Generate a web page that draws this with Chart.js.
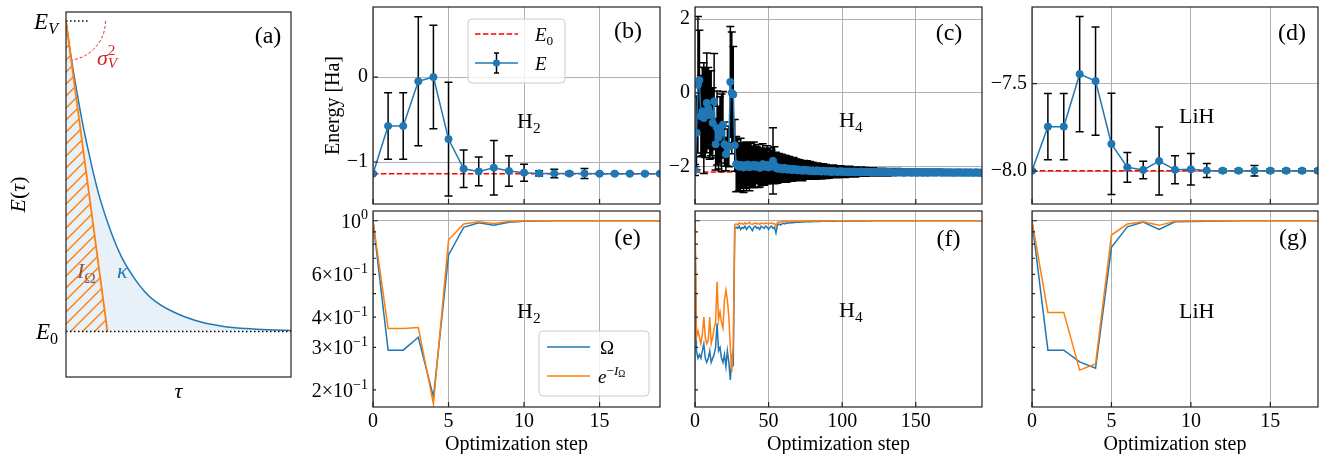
<!DOCTYPE html>
<html>
<head>
<meta charset="utf-8">
<title>VQE energy and fidelity</title>
<script src="https://cdn.jsdelivr.net/npm/chart.js@4.4.1/dist/chart.umd.min.js"></script>
<style>
  html, body { margin: 0; padding: 0; background: #fff; }
  #wrap { position: relative; width: 1319px; height: 454px; overflow: hidden; }
  #wrap canvas { position: absolute; left: 0; top: 0; }
</style>
</head>
<body>
<div id="wrap"></div>
<script>
// ---------- (a) schematic ----------
const E_V = 1, E_0 = 0;
const tauCurve    = [0, 0.025, 0.05, 0.075, 0.1, 0.125, 0.15, 0.2, 0.25, 0.3, 0.35, 0.4, 0.5, 0.6, 0.7, 0.8, 0.9, 1.0];
const energyCurve = [1, 0.873, 0.765, 0.665, 0.58, 0.5, 0.43, 0.32, 0.235, 0.175, 0.128, 0.095, 0.055, 0.03, 0.016, 0.009, 0.005, 0.003];
const tauTangent = [0, 0.184];
const energyTangent = [1, 0];
const tauEvMark = [0, 0.1];

// ---------- H2 ----------
const h2E0 = -1.137;
const h2Energy = [-1.137, -0.576, -0.576, -0.05, 0.0, -0.73, -1.08, -1.11, -1.067, -1.106,
                  -1.125, -1.134, -1.135, -1.136, -1.135, -1.137, -1.137, -1.137, -1.137, -1.137];
const h2Err = [0.01, 0.39, 0.39, 0.76, 0.61, 0.67, 0.22, 0.17, 0.32, 0.18,
               0.1, 0.03, 0.05, 0.02, 0.06, 0.01, 0.01, 0.01, 0.01, 0.01];
const h2Omega = [1.0, 0.292, 0.292, 0.33, 0.187, 0.721, 0.939, 0.981, 0.957, 0.985,
                 0.995, 0.998, 0.999, 1.0, 1.0, 1.0, 1.0, 1.0, 1.0, 1.0];
const h2ExpI = [1.0, 0.359, 0.359, 0.362, 0.175, 0.832, 0.969, 0.99, 0.975, 0.992,
                0.997, 0.999, 1.0, 1.0, 1.0, 1.0, 1.0, 1.0, 1.0, 1.0];

// ---------- H4 ----------
const h4E0 = -2.14;
const h4Energy = [
  -2.09, -1.08, 0.22, 0.35, -0.63, -0.5, -0.68, -0.55, -0.27, -0.41,
  -0.6, -0.55, -0.81, -0.23, -1.39, -0.95, -1.21, -1.0, -1.08, -0.86,
  -1.39, -1.66, -1.48, -1.45, 0.30, 0.0, -0.04, -1.42, -1.93, -1.97,
  -2.0, -1.95, -1.98, -2.02, -1.96, -1.99, -1.94, -2.01, -1.97, -1.99,
  -1.95, -2.0, -1.96, -1.98, -2.03, -1.97, -1.93, -2.0, -1.98, -1.95,
  -2.02, -1.97, -1.99, -1.84, -1.96, -2.03, -2.05, -2.02, -2.06, -2.04,
  -2.07, -2.03, -2.06, -2.08, -2.05, -2.07, -2.09, -2.06, -2.08, -2.07,
  -2.1, -2.08, -2.09, -2.11, -2.08, -2.1, -2.09, -2.11, -2.1, -2.12,
  -2.1, -2.11, -2.12, -2.1, -2.12, -2.11, -2.13, -2.11, -2.12, -2.13,
  -2.12, -2.13, -2.12, -2.14, -2.12, -2.13, -2.13, -2.14, -2.13, -2.12,
  -2.14, -2.13, -2.14, -2.13, -2.15, -2.13, -2.14, -2.14, -2.13, -2.15,
  -2.14, -2.14, -2.15, -2.13, -2.14, -2.15, -2.14, -2.14, -2.15, -2.14,
  -2.15, -2.14, -2.14, -2.15, -2.15, -2.14, -2.15, -2.14, -2.15, -2.15,
  -2.14, -2.15, -2.15, -2.14, -2.15, -2.15, -2.16, -2.15, -2.14, -2.15,
  -2.15, -2.15, -2.16, -2.15, -2.15, -2.14, -2.15, -2.16, -2.15, -2.15,
  -2.15, -2.16, -2.15, -2.15, -2.15, -2.16, -2.15, -2.15, -2.16, -2.15,
  -2.15, -2.15, -2.16, -2.15, -2.16, -2.15, -2.15, -2.16, -2.15, -2.16,
  -2.15, -2.16, -2.15, -2.16, -2.15, -2.16, -2.16, -2.15, -2.16, -2.15,
  -2.16, -2.15, -2.16, -2.16, -2.15, -2.16, -2.16, -2.15, -2.16, -2.16,
  -2.16, -2.15, -2.16, -2.16, -2.16, -2.16];
const h4Err = [
  0.15, 1.0, 1.85, 1.35, 1.1, 1.2, 1.5, 1.2, 1.35, 1.1,
  1.2, 1.15, 0.95, 1.3, 0.7, 1.0, 0.85, 0.9, 1.05, 0.9,
  0.6, 0.45, 0.5, 0.55, 1.5, 1.65, 1.3, 0.7, 0.75, 0.7,
  0.65, 0.72, 0.6, 0.68, 0.62, 0.66, 0.58, 0.64, 0.6, 0.55,
  0.62, 0.55, 0.5, 0.58, 0.52, 0.48, 0.55, 0.5, 0.45, 0.52,
  0.42, 0.48, 0.44, 0.9, 0.5, 0.42, 0.4, 0.38, 0.36, 0.38,
  0.35, 0.34, 0.36, 0.32, 0.33, 0.31, 0.3, 0.31, 0.29, 0.28,
  0.28, 0.27, 0.26, 0.27, 0.25, 0.24, 0.25, 0.23, 0.24, 0.22,
  0.22, 0.21, 0.22, 0.2, 0.21, 0.19, 0.2, 0.19, 0.18, 0.19,
  0.17, 0.18, 0.17, 0.16, 0.17, 0.16, 0.15, 0.16, 0.15, 0.15,
  0.15, 0.14, 0.15, 0.14, 0.13, 0.14, 0.13, 0.13, 0.12, 0.13,
  0.12, 0.12, 0.11, 0.12, 0.11, 0.11, 0.12, 0.11, 0.1, 0.11,
  0.1, 0.11, 0.1, 0.1, 0.1, 0.09, 0.1, 0.1, 0.09, 0.09,
  0.09, 0.1, 0.09, 0.09, 0.09, 0.09, 0.08, 0.09, 0.09, 0.08,
  0.09, 0.08, 0.08, 0.09, 0.08, 0.08, 0.08, 0.08, 0.08, 0.08,
  0.08, 0.08, 0.08, 0.08, 0.07, 0.08, 0.08, 0.07, 0.08, 0.07,
  0.07, 0.08, 0.07, 0.07, 0.07, 0.07, 0.08, 0.07, 0.07, 0.07,
  0.07, 0.07, 0.07, 0.07, 0.07, 0.07, 0.06, 0.07, 0.07, 0.07,
  0.07, 0.06, 0.07, 0.07, 0.06, 0.07, 0.06, 0.07, 0.06, 0.07,
  0.06, 0.07, 0.06, 0.06, 0.07, 0.06];
const h4Omega = [
  1.0, 0.29, 0.27, 0.28, 0.27, 0.29, 0.31, 0.27, 0.26, 0.27,
  0.29, 0.26, 0.27, 0.28, 0.30, 0.377, 0.29, 0.30, 0.27, 0.26,
  0.28, 0.25, 0.29, 0.26, 0.22, 0.27, 0.25, 0.93, 0.94, 0.93,
  0.95, 0.92, 0.94, 0.93, 0.95, 0.92, 0.94, 0.95, 0.93, 0.91,
  0.94, 0.95, 0.93, 0.94, 0.92, 0.95, 0.94, 0.93, 0.95, 0.94,
  0.92, 0.94, 0.95, 0.93, 0.94, 0.89, 0.96, 0.97, 0.96, 0.97,
  0.975, 0.97, 0.98, 0.975, 0.98, 0.982, 0.98, 0.985, 0.983, 0.986,
  0.987, 0.985, 0.988, 0.99, 0.988, 0.99, 0.991, 0.99, 0.992, 0.991,
  0.992, 0.993, 0.992, 0.993, 0.994, 0.993, 0.994, 0.995, 0.994, 0.995,
  0.995, 0.996, 0.995, 0.996, 0.996, 0.997, 0.996, 0.997, 0.997, 0.997,
  0.997, 0.998, 0.997, 0.998, 0.998, 0.998, 0.997, 0.998, 0.998, 0.998,
  0.998, 0.998, 0.999, 0.998, 0.998, 0.999, 0.998, 0.999, 0.999, 0.998,
  0.999, 0.999, 0.999, 0.999, 0.999, 0.999, 0.999, 0.999, 0.999, 0.999,
  0.999, 0.999, 0.999, 0.999, 0.999, 0.999, 0.999, 0.999, 0.999, 0.999,
  0.999, 0.999, 0.999, 0.999, 0.999, 1.0, 0.999, 0.999, 1.0, 0.999,
  1.0, 1.0, 1.0, 1.0, 1.0, 1.0, 1.0, 1.0, 1.0, 1.0,
  1.0, 1.0, 1.0, 1.0, 1.0, 1.0, 1.0, 1.0, 1.0, 1.0,
  1.0, 1.0, 1.0, 1.0, 1.0, 1.0, 1.0, 1.0, 1.0, 1.0,
  1.0, 1.0, 1.0, 1.0, 1.0, 1.0, 1.0, 1.0, 1.0, 1.0,
  1.0, 1.0, 1.0, 1.0, 1.0, 1.0];
const h4ExpI = [
  1.0, 0.33, 0.35, 0.33, 0.31, 0.34, 0.40, 0.33, 0.31, 0.32,
  0.40, 0.31, 0.33, 0.36, 0.38, 0.56, 0.39, 0.42, 0.38, 0.36,
  0.47, 0.517, 0.47, 0.40, 0.30, 0.238, 0.31, 0.965, 0.97, 0.96,
  0.98, 0.97, 0.975, 0.965, 0.98, 0.97, 0.975, 0.985, 0.97, 0.965,
  0.975, 0.98, 0.97, 0.975, 0.965, 0.98, 0.975, 0.97, 0.98, 0.975,
  0.97, 0.975, 0.98, 0.97, 0.975, 0.95, 0.985, 0.99, 0.985, 0.99,
  0.99, 0.99, 0.992, 0.991, 0.993, 0.992, 0.993, 0.994, 0.994, 0.995,
  0.995, 0.995, 0.996, 0.996, 0.996, 0.997, 0.997, 0.997, 0.997, 0.998,
  0.998, 0.998, 0.998, 0.998, 0.998, 0.998, 0.998, 0.998, 0.998, 0.998,
  0.998, 0.998, 0.999, 0.999, 0.999, 0.999, 0.999, 0.999, 0.999, 0.999,
  0.999, 0.999, 0.999, 0.999, 0.999, 0.999, 0.999, 0.999, 0.999, 0.999,
  0.999, 0.999, 0.999, 0.999, 0.999, 0.999, 0.999, 0.999, 0.999, 0.999,
  1.0, 1.0, 1.0, 1.0, 1.0, 1.0, 1.0, 1.0, 1.0, 1.0,
  1.0, 1.0, 1.0, 1.0, 1.0, 1.0, 1.0, 1.0, 1.0, 1.0,
  1.0, 1.0, 1.0, 1.0, 1.0, 1.0, 1.0, 1.0, 1.0, 1.0,
  1.0, 1.0, 1.0, 1.0, 1.0, 1.0, 1.0, 1.0, 1.0, 1.0,
  1.0, 1.0, 1.0, 1.0, 1.0, 1.0, 1.0, 1.0, 1.0, 1.0,
  1.0, 1.0, 1.0, 1.0, 1.0, 1.0, 1.0, 1.0, 1.0, 1.0,
  1.0, 1.0, 1.0, 1.0, 1.0, 1.0, 1.0, 1.0, 1.0, 1.0,
  1.0, 1.0, 1.0, 1.0, 1.0, 1.0];

// ---------- LiH ----------
const lihE0 = -7.998;
const lihEnergy = [-7.998, -7.746, -7.746, -7.445, -7.485, -7.845, -7.979, -7.994, -7.943, -7.993,
                   -7.99, -7.997, -7.998, -7.998, -7.998, -7.998, -7.998, -7.998, -7.998];
const lihErr = [0.005, 0.19, 0.19, 0.33, 0.31, 0.29, 0.085, 0.05, 0.195, 0.08,
                0.09, 0.04, 0.01, 0.01, 0.03, 0.01, 0.01, 0.01, 0.01];
const lihOmega = [1.0, 0.292, 0.292, 0.261, 0.246, 0.776, 0.944, 0.987, 0.921, 0.99,
                  0.993, 0.996, 0.998, 1.0, 1.0, 1.0, 1.0, 1.0, 1.0];
const lihExpI = [1.0, 0.418, 0.418, 0.2415, 0.256, 0.873, 0.969, 0.99, 0.957, 0.995,
                 0.997, 0.998, 0.999, 1.0, 1.0, 1.0, 1.0, 1.0, 1.0];

// ---------- ticks ----------
const stepTicksShort = [0, 5, 10, 15];
const stepTicksLong = [0, 50, 100, 150];
const h2Ticks = [-1, 0];
const h4Ticks = [-2, 0, 2];
const lihTicks = [-8.0, -7.5];
const fidTicks = [0.2, 0.3, 0.4, 0.5, 0.6, 0.7, 0.8, 0.9, 1];
const fidMinor = [0.2, 0.3, 0.4, 0.5, 0.6, 0.7, 0.8, 0.9];
const fidLabelled = [0.2, 0.3, 0.4, 0.6, 1];

// ---------- styling ----------
const W = 1319, H = 454;
const FONT = '"Liberation Serif", "Times New Roman", serif';
const BLUE = '#1f77b4', ORANGE = '#ff7f0e', RED = '#ff0000', GRID = '#b0b0b0', FRAME = '#222222';
const wrap = document.getElementById('wrap');

const pts = (xs, ys) => ys.map((y, i) => ({x: xs ? xs[i] : i, y}));
const flat = (y, x0, x1) => [{x: x0, y}, {x: x1, y}];
const fmt = (v, d) => (v < 0 ? '\u2212' : '') + Math.abs(v).toFixed(d);

const it = t => ({t, i: 1});
const sub = (t, i) => ({t, i, s: 0.7, dy: 0.22});
const sup = (t, i) => ({t, i, s: 0.7, dy: -0.42});

function drawRich(ctx, parts, x, y, align, size, color) {
  const items = parts.map(p => typeof p === 'string' ? {t: p} : Object.assign({}, p));
  let w = 0;
  items.forEach(o => {
    o.font = (o.i ? 'italic ' : '') + (size * (o.s || 1)) + 'px ' + FONT;
    ctx.font = o.font;
    o.w = ctx.measureText(o.t).width;
    if (!o.k) w += o.w;
  });
  let x0 = align === 'center' ? x - w / 2 : align === 'right' ? x - w : x;
  ctx.save();
  ctx.textAlign = 'left';
  ctx.textBaseline = 'alphabetic';
  items.forEach(o => {
    ctx.font = o.font;
    ctx.fillStyle = o.c || color || '#000';
    ctx.fillText(o.t, x0, y + (o.dy || 0) * size);
    if (!o.k) x0 += o.w;
  });
  ctx.restore();
}

function rotText(ctx, parts, cx, cy, size) {
  ctx.save();
  ctx.translate(cx, cy);
  ctx.rotate(-Math.PI / 2);
  drawRich(ctx, parts, 0, size * 0.33, 'center', size);
  ctx.restore();
}

function seg(ctx, x0, x1, y, color, dash) {
  ctx.save();
  ctx.strokeStyle = color; ctx.lineWidth = 1.5; ctx.setLineDash(dash || []);
  ctx.beginPath(); ctx.moveTo(x0, y); ctx.lineTo(x1, y); ctx.stroke();
  ctx.restore();
}

function legendBox(ctx, x, y, w, h) {
  const r = 4;
  ctx.save();
  ctx.beginPath();
  ctx.moveTo(x + r, y); ctx.lineTo(x + w - r, y); ctx.quadraticCurveTo(x + w, y, x + w, y + r);
  ctx.lineTo(x + w, y + h - r); ctx.quadraticCurveTo(x + w, y + h, x + w - r, y + h);
  ctx.lineTo(x + r, y + h); ctx.quadraticCurveTo(x, y + h, x, y + h - r);
  ctx.lineTo(x, y + r); ctx.quadraticCurveTo(x, y, x + r, y);
  ctx.closePath();
  ctx.fillStyle = 'rgba(255,255,255,0.8)'; ctx.fill();
  ctx.strokeStyle = '#cccccc'; ctx.lineWidth = 1; ctx.stroke();
  ctx.restore();
}

// error bars drawn just before the dataset that carries them
const errPlugin = {
  id: 'errbars',
  beforeDatasetDraw(chart, args) {
    const ds = chart.data.datasets[args.index];
    if (!ds.errs) return;
    const {ctx, chartArea: a} = chart;
    const xs = chart.scales.x, ys = chart.scales.y;
    ctx.save();
    ctx.beginPath(); ctx.rect(a.left, a.top, a.right - a.left, a.bottom - a.top); ctx.clip();
    ctx.strokeStyle = '#000'; ctx.lineWidth = 1.5;
    ctx.beginPath();
    ds.data.forEach((p, i) => {
      const e = ds.errs[i];
      const x = xs.getPixelForValue(p.x);
      const y1 = ys.getPixelForValue(p.y + e), y2 = ys.getPixelForValue(p.y - e);
      ctx.moveTo(x, y1); ctx.lineTo(x, y2);
      ctx.moveTo(x - 4, y1); ctx.lineTo(x + 4, y1);
      ctx.moveTo(x - 4, y2); ctx.lineTo(x + 4, y2);
    });
    ctx.stroke();
    ctx.restore();
  }
};

function panel(box, o) {
  const cv = document.createElement('canvas');
  cv.width = W; cv.height = H;
  cv.style.width = W + 'px'; cv.style.height = H + 'px';
  wrap.appendChild(cv);
  const yW = 50, xH = 30;
  const fit = horiz => s => {
    if (horiz) s.height = xH; else s.width = yW;
    s.paddingLeft = s.paddingRight = s.paddingTop = s.paddingBottom = 0;
  };
  const setTicks = vals => s => { s.ticks = vals.map(v => ({value: v})); };
  const tickFont = {family: FONT, size: 20};
  const yGrid = o.log ? (c => (c.tick && c.tick.value === 1) ? GRID : 'rgba(0,0,0,0)') : GRID;

  return new Chart(cv, {
    type: 'line',
    data: {datasets: o.datasets},
    options: {
      responsive: false, animation: false, devicePixelRatio: 1, events: [],
      layout: {autoPadding: false,
               padding: {left: box.L - yW, top: box.T, right: W - box.R, bottom: H - box.B - xH}},
      plugins: {legend: {display: false}, tooltip: {enabled: false}},
      scales: {
        x: {
          type: 'linear', min: o.xmin, max: o.xmax,
          afterBuildTicks: setTicks(o.xt), afterFit: fit(true),
          ticks: {display: !!o.xLabels, font: tickFont, color: '#000', padding: 3,
                  maxRotation: 0, autoSkip: false, callback: v => fmt(v, 0)},
          grid: {display: !o.noGrid, color: GRID, lineWidth: 1, drawTicks: false},
          border: {display: false}
        },
        y: {
          type: o.log ? 'logarithmic' : 'linear', min: o.ymin, max: o.ymax,
          afterBuildTicks: setTicks(o.yt), afterFit: fit(false),
          ticks: {display: !!o.yLabels, font: tickFont, color: '#000', padding: 5,
                  autoSkip: false, callback: v => fmt(v, o.ydec || 0)},
          grid: {display: !o.noGrid, color: yGrid, lineWidth: 1, drawTicks: false},
          border: {display: false}
        }
      }
    },
    plugins: [errPlugin, {
      id: 'deco',
      beforeDatasetDraw(ch, args) {
        if (o.beforeSet) o.beforeSet(ch, args.index);
      },
      afterDraw(ch) {
        const {ctx, chartArea: a} = ch;
        const xs = ch.scales.x, ys = ch.scales.y;
        ctx.save();
        ctx.strokeStyle = FRAME; ctx.lineWidth = 1.2;
        if (!o.noTicks) {
          ctx.beginPath();
          o.xt.forEach(v => {
            const p = xs.getPixelForValue(v);
            ctx.moveTo(p, a.bottom); ctx.lineTo(p, a.bottom - 5);
          });
          o.yt.forEach(v => {
            const p = ys.getPixelForValue(v);
            const len = (o.yMinor && o.yMinor.includes(v)) ? 3 : 5;
            ctx.moveTo(a.left, p); ctx.lineTo(a.left + len, p);
          });
          ctx.stroke();
        }
        ctx.strokeRect(a.left, a.top, a.right - a.left, a.bottom - a.top);
        ctx.restore();
        if (o.draw) o.draw(ctx, a, xs, ys);
      }
    }]
  });
}

// ---------- shared dataset builders ----------
function energySets(vals, errs, e0) {
  const n = vals.length - 1;
  return [
    {data: pts(null, vals), errs: errs, borderColor: BLUE, backgroundColor: BLUE, borderWidth: 1.5,
     pointRadius: 3.6, pointBorderWidth: 1, pointHoverRadius: 0, tension: 0},
    {data: flat(e0, 0, n), borderColor: RED, borderWidth: 1.5, borderDash: [5.5, 2.4], pointRadius: 0}
  ];
}
function fidSets(omega, expI) {
  return [
    {data: pts(null, expI), borderColor: ORANGE, borderWidth: 1.5, pointRadius: 0},
    {data: pts(null, omega), borderColor: BLUE, borderWidth: 1.5, pointRadius: 0}
  ];
}
function fidLabels(ctx, a, ys) {
  fidLabelled.forEach(v => {
    const y = ys.getPixelForValue(v) + 7;
    const parts = v === 1 ? ['10', sup('0')] : [Math.round(v * 10) + '\u00d710', sup('\u22121')];
    drawRich(ctx, parts, a.left - 5, y, 'right', 20);
  });
}
function stepTitle(ctx, a) {
  drawRich(ctx, ['Optimization step'], (a.left + a.right) / 2, a.bottom + 43, 'center', 20);
}

// ---------- (a) ----------
panel({L: 66, T: 12, R: 291, B: 377}, {
  xmin: 0, xmax: 1, ymin: -0.147, ymax: 1.029, xt: [0, 1], yt: [0, 1],
  noGrid: true, noTicks: true,
  datasets: [
    {data: flat(E_0, 0, 1), borderColor: '#000', borderWidth: 1.5, borderDash: [1.5, 2.5], pointRadius: 0},
    {data: pts(tauEvMark, [E_V, E_V]), borderColor: '#000', borderWidth: 1.5, borderDash: [1.5, 2.5], pointRadius: 0},
    {data: pts(tauTangent, energyTangent), borderColor: ORANGE, borderWidth: 1.8, pointRadius: 0},
    {data: pts(tauCurve, energyCurve), borderColor: BLUE, borderWidth: 1.5, pointRadius: 0,
     cubicInterpolationMode: 'monotone', fill: 'origin', backgroundColor: 'rgba(31,119,180,0.1)'}
  ],
  // orange "//" hatch under the tangent line, drawn just before the tangent itself
  beforeSet(ch, index) {
    if (index !== 2) return;
    const {ctx, chartArea: a} = ch;
    const xs = ch.scales.x, ys = ch.scales.y;
    ctx.save();
    ctx.beginPath();
    ctx.moveTo(xs.getPixelForValue(tauTangent[0]), ys.getPixelForValue(energyTangent[0]));
    ctx.lineTo(xs.getPixelForValue(tauTangent[1]), ys.getPixelForValue(energyTangent[1]));
    ctx.lineTo(xs.getPixelForValue(tauTangent[0]), ys.getPixelForValue(E_0));
    ctx.closePath();
    ctx.clip();
    ctx.strokeStyle = ORANGE; ctx.lineWidth = 1.4;
    ctx.beginPath();
    const h = a.bottom - a.top;
    for (let c = a.left - h; c < a.right; c += 12) {
      ctx.moveTo(c, a.bottom); ctx.lineTo(c + h, a.top);
    }
    ctx.stroke();
    ctx.restore();
  },
  draw(ctx, a, xs, ys) {
    const cx = xs.getPixelForValue(0), cy = ys.getPixelForValue(E_V);
    ctx.save();
    ctx.strokeStyle = '#d62728'; ctx.lineWidth = 1; ctx.setLineDash([3, 2]);
    ctx.beginPath(); ctx.arc(cx, cy, 39.5, 0, 1.42); ctx.stroke();
    ctx.restore();
    drawRich(ctx, [it('\u03c3'), {t: '2', s: 0.7, dy: -0.45, k: 1}, {t: 'V', i: 1, s: 0.7, dy: 0.14}],
             cx + 31, cy + 44, 'left', 22, '#d62728');
    drawRich(ctx, [it('E'), sub('V', 1)], a.left - 8, ys.getPixelForValue(E_V) + 8, 'right', 23);
    drawRich(ctx, [it('E'), sub('0')], a.left - 8, ys.getPixelForValue(E_0) + 8, 'right', 23);
    drawRich(ctx, [it('I'), sub('\u03a9')], a.left + 11, a.top + 266, 'left', 22, '#8c564b');
    drawRich(ctx, [it('\u03ba')], a.left + 51, a.top + 266, 'left', 22, BLUE);
    drawRich(ctx, ['(a)'], a.left + 202, a.top + 31, 'center', 24);
    drawRich(ctx, [it('\u03c4')], (a.left + a.right) / 2, a.bottom + 21, 'center', 22);
    rotText(ctx, [it('E'), '(', it('\u03c4'), ')'], a.left - 48, (a.top + a.bottom) / 2, 22);
  }
});

// ---------- (b) H2 energy ----------
panel({L: 373, T: 7, R: 660, B: 204}, {
  xmin: 0, xmax: h2Energy.length - 1, ymin: -1.494, ymax: 0.824,
  xt: stepTicksShort, yt: h2Ticks, yLabels: true,
  datasets: energySets(h2Energy, h2Err, h2E0),
  draw(ctx, a) {
    drawRich(ctx, ['(b)'], a.left + 255, a.top + 31, 'center', 24);
    drawRich(ctx, ['H', sub('2')], a.left + 144, a.top + 121, 'left', 22);
    rotText(ctx, ['Energy [Ha]'], a.left - 41, (a.top + a.bottom) / 2, 20);
    const x0 = a.left + 95, y0 = a.top + 12;
    legendBox(ctx, x0, y0, 97, 64);
    seg(ctx, x0 + 7, x0 + 50, y0 + 15, RED, [5.5, 2.4]);
    drawRich(ctx, [it('E'), sub('0')], x0 + 67, y0 + 15 + 6.5, 'left', 19);
    const ly = y0 + 44, mx = x0 + 28.5;
    seg(ctx, x0 + 7, x0 + 50, ly, BLUE);
    ctx.save();
    ctx.strokeStyle = '#000'; ctx.lineWidth = 1.5;
    ctx.beginPath();
    ctx.moveTo(mx, ly - 10); ctx.lineTo(mx, ly + 10);
    ctx.moveTo(mx - 2.5, ly - 10); ctx.lineTo(mx + 2.5, ly - 10);
    ctx.moveTo(mx - 2.5, ly + 10); ctx.lineTo(mx + 2.5, ly + 10);
    ctx.stroke();
    ctx.fillStyle = BLUE;
    ctx.beginPath(); ctx.arc(mx, ly, 3.6, 0, Math.PI * 2); ctx.fill();
    ctx.restore();
    drawRich(ctx, [it('E')], x0 + 67, ly + 6.5, 'left', 19);
  }
});

// ---------- (c) H4 energy ----------
panel({L: 695, T: 7, R: 982, B: 204}, {
  xmin: 0, xmax: h4Energy.length - 1, ymin: -3.01, ymax: 2.33,
  xt: stepTicksLong, yt: h4Ticks, yLabels: true,
  datasets: energySets(h4Energy, h4Err, h4E0),
  draw(ctx, a) {
    drawRich(ctx, ['(c)'], a.left + 254, a.top + 33, 'center', 24);
    drawRich(ctx, ['H', sub('4')], a.left + 144, a.top + 120, 'left', 22);
  }
});

// ---------- (d) LiH energy ----------
panel({L: 1032, T: 7, R: 1318, B: 204}, {
  xmin: 0, xmax: lihEnergy.length - 1, ymin: -8.189, ymax: -7.0607,
  xt: stepTicksShort, yt: lihTicks, yLabels: true, ydec: 1,
  datasets: energySets(lihEnergy, lihErr, lihE0),
  draw(ctx, a) {
    drawRich(ctx, ['(d)'], a.left + 260, a.top + 33, 'center', 24);
    drawRich(ctx, ['LiH'], a.left + 147, a.top + 116, 'left', 22);
  }
});

// ---------- (e) H2 fidelity ----------
panel({L: 373, T: 211, R: 660, B: 407}, {
  xmin: 0, xmax: h2Omega.length - 1, ymin: 0.170, ymax: 1.097, log: true,
  xt: stepTicksShort, yt: fidTicks, yMinor: fidMinor, xLabels: true,
  datasets: fidSets(h2Omega, h2ExpI),
  draw(ctx, a, xs, ys) {
    fidLabels(ctx, a, ys);
    stepTitle(ctx, a);
    drawRich(ctx, ['(e)'], a.left + 254.5, a.top + 34, 'center', 24);
    drawRich(ctx, ['H', sub('2')], a.left + 144, a.top + 107, 'left', 22);
    const x0 = a.left + 166, y0 = a.top + 120;
    legendBox(ctx, x0, y0, 110, 65);
    seg(ctx, x0 + 8, x0 + 51, y0 + 16, BLUE);
    drawRich(ctx, ['\u03a9'], x0 + 61, y0 + 16 + 6.5, 'left', 19);
    seg(ctx, x0 + 8, x0 + 51, y0 + 45, ORANGE);
    drawRich(ctx, [it('e'), {t: '\u2212', s: 0.7, dy: -0.42}, {t: 'I', i: 1, s: 0.7, dy: -0.42},
                   {t: '\u03a9', s: 0.5, dy: -0.3}], x0 + 59, y0 + 45 + 6.5, 'left', 19);
  }
});

// ---------- (f) H4 fidelity ----------
panel({L: 695, T: 211, R: 982, B: 407}, {
  xmin: 0, xmax: h4Omega.length - 1, ymin: 0.170, ymax: 1.097, log: true,
  xt: stepTicksLong, yt: fidTicks, yMinor: fidMinor, xLabels: true,
  datasets: fidSets(h4Omega, h4ExpI),
  draw(ctx, a) {
    stepTitle(ctx, a);
    drawRich(ctx, ['(f)'], a.left + 253.5, a.top + 35, 'center', 24);
    drawRich(ctx, ['H', sub('4')], a.left + 144, a.top + 106, 'left', 22);
  }
});

// ---------- (g) LiH fidelity ----------
panel({L: 1032, T: 211, R: 1318, B: 407}, {
  xmin: 0, xmax: lihOmega.length - 1, ymin: 0.170, ymax: 1.097, log: true,
  xt: stepTicksShort, yt: fidTicks, yMinor: fidMinor, xLabels: true,
  datasets: fidSets(lihOmega, lihExpI),
  draw(ctx, a) {
    stepTitle(ctx, a);
    drawRich(ctx, ['(g)'], a.left + 261, a.top + 34, 'center', 24);
    drawRich(ctx, ['LiH'], a.left + 147, a.top + 107, 'left', 22);
  }
});
</script>
</body>
</html>
